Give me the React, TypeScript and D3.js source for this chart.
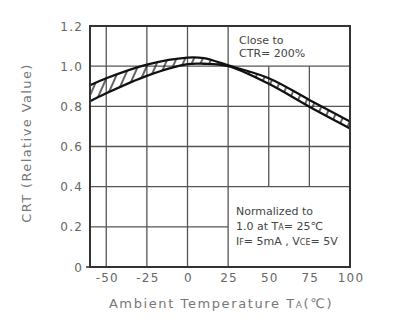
import React from "react";
import * as d3 from "d3";

const temps = [-60, -50, -25, 0, 10, 25, 50, 75, 100];
const upper = [0.905, 0.94, 1.008, 1.043, 1.04, 1.004, 0.94, 0.832, 0.724];
const lower = [0.825, 0.865, 0.952, 1.01, 1.012, 1.0, 0.912, 0.798, 0.69];
const xTicks = [-50, -25, 0, 25, 50, 75, 100];
const yTicks = [0, 0.2, 0.4, 0.6, 0.8, 1.0, 1.2];
const yGrid = [0.2, 0.4, 0.6, 0.8, 1.0];
const xGrid = [-50, -25, 0, 25, 50, 75];

const W = 415, H = 323;
const L = 90, R = 350, T = 26, B = 267;

export default function App() {
  const x = d3.scaleLinear().domain([-60, 100]).range([L, R]);
  const y = d3.scaleLinear().domain([0, 1.2]).range([B, T]);
  const pts = temps.map((t, i) => ({ t, u: upper[i], l: lower[i] }));
  const curve = d3.curveCatmullRom.alpha(0.5);
  const area = d3.area<any>().x(d => x(d.t)).y0(d => y(d.l)).y1(d => y(d.u)).curve(curve);
  const lineU = d3.line<any>().x(d => x(d.t)).y(d => y(d.u)).curve(curve);
  const lineL = d3.line<any>().x(d => x(d.t)).y(d => y(d.l)).curve(curve);
  const font = "'DejaVu Sans', Verdana, sans-serif";
  const gridC = "#555";
  const inTop = (gx: number) => gx > x(25);
  return (
    <svg width={W} height={H} style={{ position: "absolute", left: 0, top: 0, background: "#fff" }}>
      <defs>
        <pattern id="hatch" width="8" height="8" patternUnits="userSpaceOnUse" patternTransform="rotate(24)">
          <line x1="1" y1="0" x2="1" y2="8" stroke="#222" strokeWidth="1.4" />
        </pattern>
        <clipPath id="plot">
          <rect x={L} y={T} width={R - L} height={B - T} />
        </clipPath>
      </defs>
      <rect x={0} y={0} width={W} height={H} fill="#fff" />
      <g stroke={gridC} strokeWidth={1.3}>
        {xGrid.map(v => (
          <line key={"vx" + v} x1={x(v)} x2={x(v)}
            y1={inTop(x(v)) ? y(1.0) : T}
            y2={inTop(x(v)) ? y(0.4) : B} />
        ))}
        {yGrid.map(v => (
          <line key={"hy" + v} x1={L} y1={y(v)} y2={y(v)}
            x2={v < 0.4 ? x(25) : R} />
        ))}
      </g>
      <g clipPath="url(#plot)">
        <path d={area(pts) || ""} fill="url(#hatch)" stroke="none" />
        <path d={lineU(pts) || ""} fill="none" stroke="#111" strokeWidth={2.3} />
        <path d={lineL(pts) || ""} fill="none" stroke="#111" strokeWidth={2.3} />
      </g>
      <rect x={L} y={T} width={R - L} height={B - T} fill="none" stroke="#333" strokeWidth={2} />
      <line x1={L - 4} x2={L} y1={B} y2={B} stroke="#333" strokeWidth={1.5} />
      <g fontFamily={font} fontSize={12} fill="#666" letterSpacing={1.2} textAnchor="end">
        {yTicks.map(v => (
          <text key={"yt" + v} x={83} y={y(v) + 4.5}>{v === 0 ? "0" : v.toFixed(1)}</text>
        ))}
      </g>
      <g fontFamily={font} fontSize={12} fill="#666" letterSpacing={1.2} textAnchor="middle">
        {xTicks.map(v => (
          <text key={"xt" + v} x={x(v) + 1} y={282}>{String(v)}</text>
        ))}
      </g>
      <text x={221} y={308} textAnchor="middle" fontFamily={font} fontSize={13} fill="#777" letterSpacing={1.6}>
        Ambient Temperature T<tspan fontSize={9}>A</tspan>(℃)
      </text>
      <text transform={`translate(31,143) rotate(-90)`} textAnchor="middle" fontFamily={font} fontSize={13} fill="#777" letterSpacing={1.4}>
        CRT (Relative Value)
      </text>
      <g fontFamily={font} fontSize={11} fill="#444">
        <text x={239} y={44}>Close to</text>
        <text x={239} y={57}>CTR= 200%</text>
        <text x={236} y={215}>Normalized to</text>
        <text x={236} y={230}>1.0 at T<tspan fontSize={8}>A</tspan>= 25℃</text>
        <text x={236} y={245}>I<tspan fontSize={8}>F</tspan>= 5mA , V<tspan fontSize={8}>CE</tspan>= 5V</text>
      </g>
    </svg>
  );
}
